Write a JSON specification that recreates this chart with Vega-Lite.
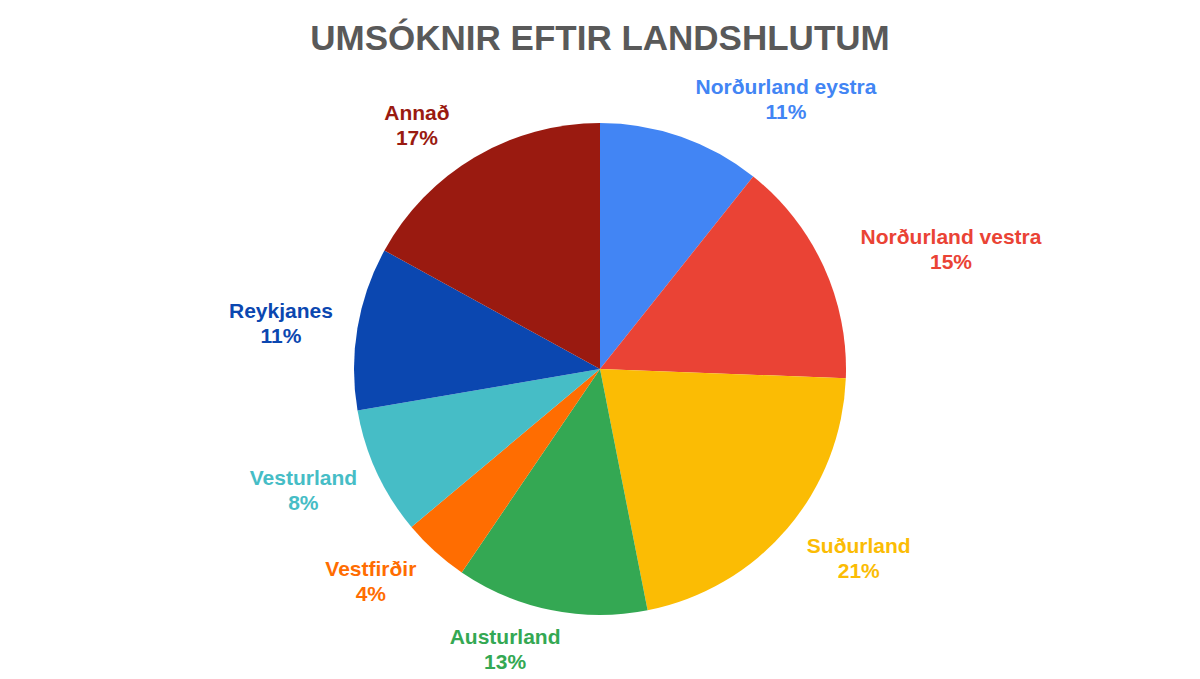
{
  "$schema": "https://vega.github.io/schema/vega-lite/v6.json",
  "autosize": {"type": "fit", "contains": "padding"},
  "width": 1200,
  "height": 679,
  "padding": {"top": 22, "left": 0, "right": 0, "bottom": 0},
  "background": "white",
  "config": {"view": {"stroke": null}},
  "title": {
    "text": "UMSÓKNIR EFTIR LANDSHLUTUM",
    "font": "Liberation Sans",
    "fontSize": 35,
    "fontWeight": "bold",
    "color": "#595959",
    "anchor": "middle",
    "offset": 2
  },
  "data": {
    "values": [
      {"region": "Norðurland eystra", "value": 10.7, "pct": "11%", "order": 1},
      {"region": "Norðurland vestra", "value": 14.9, "pct": "15%", "order": 2},
      {"region": "Suðurland", "value": 21.3, "pct": "21%", "order": 3},
      {"region": "Austurland", "value": 12.6, "pct": "13%", "order": 4},
      {"region": "Vestfirðir", "value": 4.4, "pct": "4%", "order": 5},
      {"region": "Vesturland", "value": 8.4, "pct": "8%", "order": 6},
      {"region": "Reykjanes", "value": 10.7, "pct": "11%", "order": 7},
      {"region": "Annað", "value": 17.0, "pct": "17%", "order": 8}
    ]
  },
  "transform": [{"calculate": "datum.region + '\\n' + datum.pct", "as": "label"}],
  "encoding": {
    "theta": {"field": "value", "type": "quantitative", "stack": true},
    "order": {"field": "order", "type": "quantitative"},
    "color": {
      "field": "region",
      "type": "nominal",
      "scale": {
        "domain": ["Norðurland eystra", "Norðurland vestra", "Suðurland", "Austurland", "Vestfirðir", "Vesturland", "Reykjanes", "Annað"],
        "range": ["#4285F4", "#EA4335", "#FBBC04", "#34A853", "#FF6D01", "#46BDC6", "#0B47B0", "#9A1A10"]
      },
      "legend": null
    }
  },
  "layer": [
    {
      "mark": {"type": "arc", "outerRadius": 246}
    },
    {
      "mark": {
        "type": "text", "radius": 285, "dx": 92, "dy": -12,
        "font": "Liberation Sans", "fontSize": 21, "fontWeight": "bold",
        "lineBreak": "\n", "lineHeight": 25, "align": "center", "baseline": "middle"
      },
      "encoding": {"text": {"condition": {"test": "datum.order <= 2", "field": "label"}, "value": ""}}
    },
    {
      "mark": {
        "type": "text", "radius": 285, "dx": 42, "dy": -7,
        "font": "Liberation Sans", "fontSize": 21, "fontWeight": "bold",
        "lineBreak": "\n", "lineHeight": 25, "align": "center", "baseline": "middle"
      },
      "encoding": {"text": {"condition": {"test": "datum.order == 3", "field": "label"}, "value": ""}}
    },
    {
      "mark": {
        "type": "text", "radius": 285, "dx": -38, "dy": -10,
        "font": "Liberation Sans", "fontSize": 21, "fontWeight": "bold",
        "lineBreak": "\n", "lineHeight": 25, "align": "center", "baseline": "middle"
      },
      "encoding": {"text": {"condition": {"test": "datum.order >= 4", "field": "label"}, "value": ""}}
    }
  ]
}
